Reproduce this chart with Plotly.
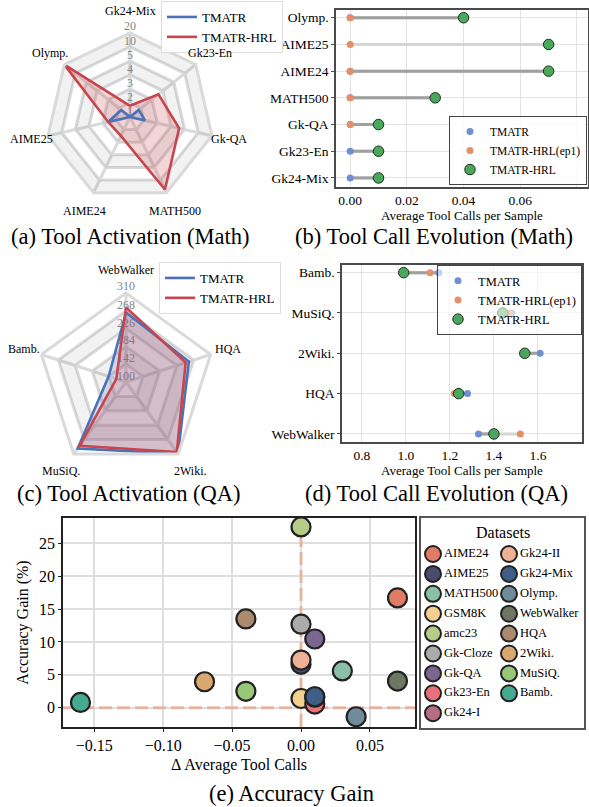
import math
import numpy as np
import plotly.graph_objects as go

W, H = 589, 807
FONT = "Liberation Serif"

# ---------------- data ----------------
# (a) tool activation, math (radar)
math_cats = ["Gk24-Mix", "Gk23-En", "Gk-QA", "MATH500", "AIME24", "AIME25", "Olymp."]
math_tmatr = [1.0, 1.8, 2.1, 1.0, 1.0, 2.6, 1.8]
math_hrl = [1.8, 3.6, 4.6, 17.5, 2.5, 2.6, 20.0]
math_ticks = [1, 2, 3, 4, 5, 10, 20]

# (c) tool activation, QA (radar)
qa_cats = ["WebWalker", "HQA", "2Wiki.", "MuSiQ.", "Bamb."]
qa_tmatr = [264, 256, 309, 294, 143]
qa_hrl = [276, 248, 304, 286, 124]
qa_ticks = [100, 142, 184, 226, 268, 310]

# (b) tool call evolution, math
evo_math_cats = ["Olymp.", "AIME25", "AIME24", "MATH500", "Gk-QA", "Gk23-En", "Gk24-Mix"]
evo_math_tmatr = [0.0, None, 0.0, 0.0, 0.0, 0.0, 0.0]
evo_math_ep1 = [0.0, 0.0, 0.0, 0.0, 0.0, None, None]
evo_math_hrl = [0.04, 0.07, 0.07, 0.03, 0.01, 0.01, 0.01]
evo_math_xticks = [0.0, 0.02, 0.04, 0.06, 0.08]

# (d) tool call evolution, QA
evo_qa_cats = ["Bamb.", "MuSiQ.", "2Wiki.", "HQA", "WebWalker"]
evo_qa_tmatr = [1.15, 1.48, 1.61, 1.28, 1.33]
evo_qa_ep1 = [1.11, 1.47, 1.54, 1.22, 1.52]
evo_qa_hrl = [0.99, 1.44, 1.54, 1.24, 1.40]
evo_qa_xticks = [0.8, 1.0, 1.2, 1.4, 1.6, 1.8]

# (e) accuracy gain vs delta tool calls
acc_names = ["AIME24", "AIME25", "MATH500", "GSM8K", "amc23", "Gk-Cloze", "Gk-QA",
             "Gk23-En", "Gk24-I", "Gk24-II", "Gk24-Mix", "Olymp.", "WebWalker",
             "HQA", "2Wiki.", "MuSiQ.", "Bamb."]
acc_dx = [0.07, 0.0, 0.03, 0.0, 0.0, 0.0, 0.01, 0.01, 0.01, 0.0, 0.01, 0.04, 0.07,
          -0.04, -0.07, -0.04, -0.16]
acc_gain = [16.7, 6.6, 5.6, 1.4, 27.5, 12.7, 10.45, 0.55, 1.6, 7.25, 1.67, -1.37, 4.05,
            13.5, 3.95, 2.5, 0.8]
acc_colors = ["#e07b65", "#4a4b6e", "#8ac0a8", "#f2d08f", "#b4cc85", "#ababab", "#7a6690",
              "#e8707a", "#b86e82", "#eeb193", "#3f5e88", "#6e8c9c", "#6e7763",
              "#ab8a6e", "#d9a86f", "#96c878", "#45ab90"]
acc_xticks = [-0.15, -0.10, -0.05, 0.0, 0.05]
acc_yticks = [0, 5, 10, 15, 20, 25]
acc_xrange = [-0.1727, 0.0827]
acc_yrange = [-2.93, 28.85]

# ---------------- styles ----------------
BLUE = "#4a72b8"
RED = "#c8454d"
BLUE_FILL = "rgba(76,114,184,0.22)"
RED_FILL = "rgba(200,69,77,0.22)"
GRID_R = "#dadada"
DB_BLUE = "#6f8fd0"
DB_ORANGE = "#e58f65"
DB_GREEN = "#4aa85c"

# radar boxes in pixels (left, top, size)
RADAR_A = (46, 33, 168)
RADAR_C = (37, 293, 178)


def px_x(p):
    return p / W


def px_y(p):
    return 1 - p / H


fig = go.Figure()


def add_radar(cats, tmatr, hrl, ticks, polar, legend, positions, gray_bands, box,
              label_frac):
    n = len(ticks)
    lo, hi = positions[0], positions[-1]
    left, top, size = box
    R = size / 2.0
    cx, cy = left + R, top + R
    for k in range(n - 1):
        if k not in gray_bands:
            continue
        outer, inner = positions[k + 1], positions[k]
        th = cats + [cats[0]] + [cats[0]] + cats[::-1]
        rr = [outer] * (len(cats) + 1) + [inner] * (len(cats) + 1)
        fig.add_trace(go.Scatterpolar(r=rr, theta=th, mode="lines", fill="toself",
                                      fillcolor="rgba(0,0,0,0.05)", line=dict(width=0),
                                      hoverinfo="skip", showlegend=False, subplot=polar))
    # radial tick labels along the first spoke, just outside each ring
    shift = 5.0 / R * (hi - lo)
    lab_r = [p + shift for p in positions[:-1]] + [hi]
    lab_pos = ["middle center"] * (n - 1) + ["top center"]
    fig.add_trace(go.Scatterpolar(r=lab_r, theta=[cats[0]] * n, mode="text",
                                  text=[str(t) for t in ticks], textposition=lab_pos,
                                  textfont=dict(family=FONT, size=12, color="#858585"),
                                  cliponaxis=False, hoverinfo="skip", showlegend=False,
                                  subplot=polar))
    if polar == "polar":
        rt = list(np.interp(tmatr, ticks, positions))
        rh = list(np.interp(hrl, ticks, positions))
    else:
        rt, rh = list(tmatr), list(hrl)
    th = cats + [cats[0]]
    rt = rt + [rt[0]]
    rh = rh + [rh[0]]
    fig.add_trace(go.Scatterpolar(r=rt, theta=th, mode="lines", fill="toself",
                                  fillcolor=BLUE_FILL, line=dict(width=0), hoverinfo="skip",
                                  showlegend=False, subplot=polar))
    fig.add_trace(go.Scatterpolar(r=rh, theta=th, mode="lines", fill="toself",
                                  fillcolor=RED_FILL, line=dict(width=0), hoverinfo="skip",
                                  showlegend=False, subplot=polar))
    fig.add_trace(go.Scatterpolar(r=rt, theta=th, mode="lines", name="TMATR",
                                  line=dict(color=BLUE, width=2.6), subplot=polar,
                                  legend=legend))
    fig.add_trace(go.Scatterpolar(r=rh, theta=th, mode="lines", name="TMATR-HRL",
                                  line=dict(color=RED, width=2.6), subplot=polar,
                                  legend=legend))
    # category labels centred just outside the outer ring
    for i, c in enumerate(cats):
        ang = math.radians(90 - 360.0 * i / len(cats))
        rl = R * label_frac + 5.0 * math.sin(ang) ** 2
        fig.add_annotation(text=c, x=px_x(cx + rl * math.cos(ang)),
                           y=px_y(cy - rl * math.sin(ang)), xref="paper", yref="paper",
                           showarrow=False, xanchor="center", yanchor="middle",
                           font=dict(family=FONT, size=12, color="black"))


math_pos = list(range(len(math_ticks)))
add_radar(math_cats, math_tmatr, math_hrl, math_ticks, "polar", "legend", math_pos,
          {5, 3, 1}, RADAR_A, 1.2)
add_radar(qa_cats, qa_tmatr, qa_hrl, qa_ticks, "polar2", "legend3", qa_ticks,
          {3, 1}, RADAR_C, 1.2)


def add_dumbbell(cats, tmatr, ep1, hrl, xa, ya, legend):
    lx, ly, dx, dy = [], [], [], []
    for c, a, b, h in zip(cats, tmatr, ep1, hrl):
        vals = [v for v in (a, b, h) if v is not None]
        lx += [min(vals), max(vals), None]
        ly += [c, c, None]
        if a is not None and h is not None:
            dx += [a, h, None]
            dy += [c, c, None]
    fig.add_trace(go.Scatter(x=lx, y=ly, mode="lines", line=dict(color="#d6d6d6", width=3),
                             hoverinfo="skip", showlegend=False, xaxis=xa, yaxis=ya))
    fig.add_trace(go.Scatter(x=dx, y=dy, mode="lines", line=dict(color="#a0a0a0", width=3),
                             hoverinfo="skip", showlegend=False, xaxis=xa, yaxis=ya))
    fig.add_trace(go.Scatter(x=tmatr, y=cats, mode="markers", name="TMATR",
                             marker=dict(color=DB_BLUE, size=7), xaxis=xa, yaxis=ya,
                             legend=legend))
    fig.add_trace(go.Scatter(x=ep1, y=cats, mode="markers", name="TMATR-HRL(ep1)",
                             marker=dict(color=DB_ORANGE, size=7), xaxis=xa, yaxis=ya,
                             legend=legend))
    fig.add_trace(go.Scatter(x=hrl, y=cats, mode="markers", name="TMATR-HRL",
                             marker=dict(color=DB_GREEN, size=10.5,
                                         line=dict(color="#1e2e1e", width=1)),
                             xaxis=xa, yaxis=ya, legend=legend))


add_dumbbell(evo_math_cats, evo_math_tmatr, evo_math_ep1, evo_math_hrl, "x", "y", "legend2")
add_dumbbell(evo_qa_cats, evo_qa_tmatr, evo_qa_ep1, evo_qa_hrl, "x2", "y2", "legend4")

# (e) dashed reference lines (drawn first, below the points)
ref_line = dict(color="rgba(228,170,145,0.8)", width=3, dash="13px,5px")
fig.add_trace(go.Scatter(x=[0, 0], y=acc_yrange, mode="lines", line=ref_line,
                         hoverinfo="skip", showlegend=False, xaxis="x3", yaxis="y3"))
fig.add_trace(go.Scatter(x=acc_xrange, y=[0, 0], mode="lines", line=ref_line,
                         hoverinfo="skip", showlegend=False, xaxis="x3", yaxis="y3"))

# (e) scatter
fig.add_trace(go.Scatter(x=acc_dx, y=acc_gain, mode="markers", text=acc_names,
                         marker=dict(color=acc_colors, size=19,
                                     line=dict(color="#222222", width=2.2)),
                         showlegend=False, xaxis="x3", yaxis="y3"))

# (e) dataset key drawn on its own frame (two columns)
n_rows = 9
key_x = [12 if i // n_rows == 0 else 88 for i in range(len(acc_names))]
key_y = [36 + 19.9 * (i % n_rows) for i in range(len(acc_names))]
fig.add_trace(go.Scatter(x=key_x, y=key_y, mode="markers+text", text=acc_names,
                         textposition="middle right",
                         textfont=dict(family=FONT, size=12.5, color="black"),
                         marker=dict(color=acc_colors, size=16,
                                     line=dict(color="#222222", width=2)),
                         cliponaxis=False, hoverinfo="skip", showlegend=False,
                         xaxis="x4", yaxis="y4"))

# ---------------- layout ----------------
polar_common = dict(
    bgcolor="white",
    gridshape="linear",
    radialaxis=dict(showline=False, showticklabels=False, ticks="", gridcolor=GRID_R,
                    gridwidth=3),
    angularaxis=dict(direction="clockwise", rotation=90, gridcolor=GRID_R, gridwidth=3,
                     showline=True, linecolor=GRID_R, linewidth=3, ticks="",
                     showticklabels=False),
)


def radar_domain(box):
    left, top, size = box
    return dict(x=[px_x(left), px_x(left + size)], y=[px_y(top + size), px_y(top)])


pa = dict(polar_common)
pa["domain"] = radar_domain(RADAR_A)
pa["radialaxis"] = dict(polar_common["radialaxis"], range=[0, 6], tickvals=math_pos)
pc = dict(polar_common)
pc["domain"] = radar_domain(RADAR_C)
pc["radialaxis"] = dict(polar_common["radialaxis"], range=[100, 310], tickvals=qa_ticks)

tickf = dict(family=FONT, size=13.5, color="black")
box_axis = dict(showline=True, mirror=True, linecolor="#4a4a4a", linewidth=1.5,
                gridcolor="#e3e3e3", gridwidth=1.3, zeroline=False, ticks="outside",
                ticklen=3, tickcolor="#4a4a4a", tickfont=tickf)

legend_small = dict(bgcolor="rgba(255,255,255,0.85)", borderwidth=1, tracegroupgap=0,
                    itemwidth=30)

fig.update_layout(
    width=W, height=H, autosize=False,
    margin=dict(l=0, r=0, t=0, b=0),
    paper_bgcolor="white", plot_bgcolor="white",
    font=dict(family=FONT, color="black"),
    polar=pa, polar2=pc,
    xaxis=dict(box_axis, domain=[px_x(336), px_x(588)], range=[-0.005, 0.0839],
               tickvals=evo_math_xticks, tickformat=".2f", anchor="y", ticks="",
               title=dict(text="Average Tool Calls per Sample",
                          font=dict(family=FONT, size=13), standoff=0)),
    yaxis=dict(box_axis, domain=[px_y(187), px_y(10)], type="category",
               categoryorder="array", categoryarray=evo_math_cats,
               range=[6.34, -0.29], anchor="x"),
    xaxis2=dict(box_axis, domain=[px_x(342), px_x(582)], range=[0.71, 1.8],
                tickvals=evo_qa_xticks, tickformat=".1f", anchor="y2", ticks="",
                title=dict(text="Average Tool Calls per Sample",
                           font=dict(family=FONT, size=13), standoff=0)),
    yaxis2=dict(box_axis, domain=[px_y(442), px_y(265)], type="category",
                categoryorder="array", categoryarray=evo_qa_cats,
                range=[4.2, -0.19], anchor="x2"),
    xaxis3=dict(box_axis, domain=[px_x(63), px_x(415)], range=acc_xrange,
                tickvals=acc_xticks, tickformat=".2f", anchor="y3",
                linecolor="#222222", tickcolor="#222222",
                tickfont=dict(family=FONT, size=16, color="black"),
                gridcolor="#dedede", gridwidth=1.5,
                title=dict(text="Δ Average Tool Calls", font=dict(family=FONT, size=16),
                           standoff=6)),
    yaxis3=dict(box_axis, domain=[px_y(727), px_y(518)], range=acc_yrange,
                tickvals=acc_yticks, anchor="x3",
                linecolor="#222222", tickcolor="#222222",
                tickfont=dict(family=FONT, size=16, color="black"),
                gridcolor="#dedede", gridwidth=1.5,
                title=dict(text="Accuracy Gain (%)", font=dict(family=FONT, size=16),
                           standoff=6)),
    xaxis4=dict(domain=[px_x(421), px_x(584)], range=[0, 163], anchor="y4",
                showgrid=False, zeroline=False, showticklabels=False, ticks="",
                showline=True, mirror=True, linecolor="#555555", linewidth=1.5,
                fixedrange=True),
    yaxis4=dict(domain=[px_y(728), px_y(518)], range=[210, 0], anchor="x4",
                showgrid=False, zeroline=False, showticklabels=False, ticks="",
                showline=True, mirror=True, linecolor="#555555", linewidth=1.5,
                fixedrange=True),
    legend=dict(legend_small, x=px_x(161), y=px_y(1), xanchor="left", yanchor="top",
                bordercolor="#dddddd", font=dict(family=FONT, size=13)),
    legend3=dict(legend_small, x=px_x(159), y=px_y(262), xanchor="left", yanchor="top",
                 bordercolor="#dddddd", font=dict(family=FONT, size=13)),
    legend2=dict(legend_small, x=px_x(587), y=px_y(185), xanchor="right", yanchor="bottom",
                 bordercolor="#444444", font=dict(family=FONT, size=11.5)),
    legend4=dict(legend_small, x=px_x(582), y=px_y(265), xanchor="right", yanchor="top",
                 bgcolor="rgba(255,255,255,0.6)",
                 bordercolor="#444444", font=dict(family=FONT, size=12.5)),
)

# key title
fig.add_annotation(text="Datasets", x=0.5, y=14, xref="x4 domain", yref="y4",
                   showarrow=False, font=dict(family=FONT, size=16, color="black"))

# captions
captions = [("(a) Tool Activation (Math)", 130, 237),
            ("(b) Tool Call Evolution (Math)", 434, 237),
            ("(c) Tool Activation (QA)", 129, 493),
            ("(d) Tool Call Evolution (QA)", 436, 493),
            ("(e) Accuracy Gain", 291, 793)]
for txt, cx, cy in captions:
    fig.add_annotation(text=txt, x=px_x(cx), y=px_y(cy), xref="paper", yref="paper",
                       showarrow=False, xanchor="center", yanchor="middle",
                       font=dict(family=FONT, size=22.5, color="black"))

fig.write_html("out.html")
